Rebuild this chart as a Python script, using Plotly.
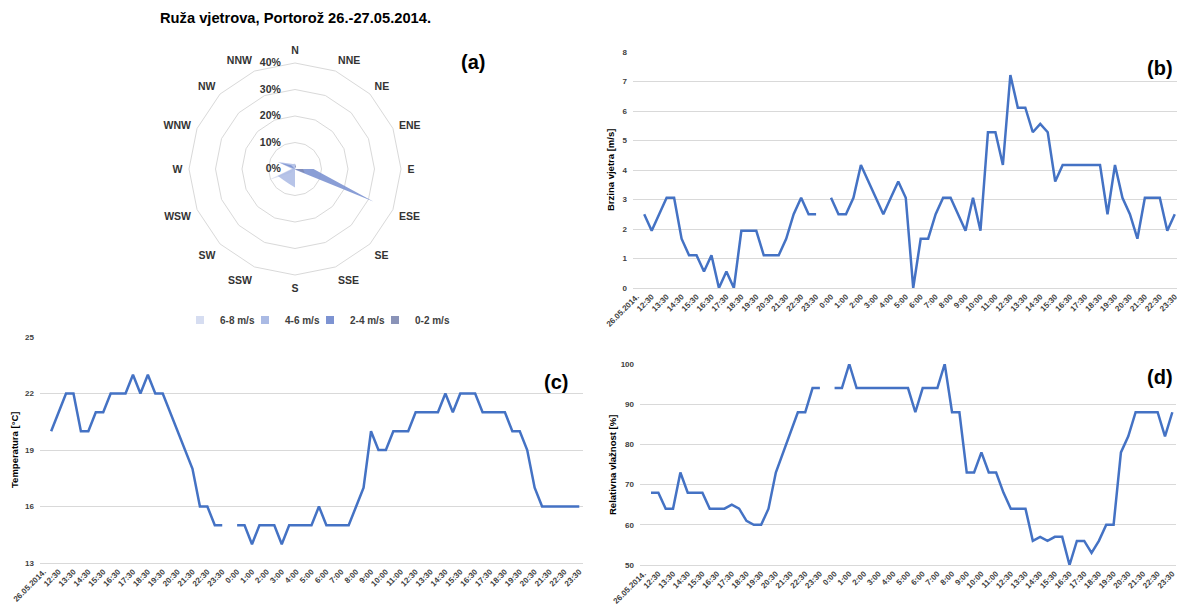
import plotly.graph_objects as go

# ---------------- data ----------------
directions = ["N", "NNE", "NE", "ENE", "E", "ESE", "SE", "SSE",
              "S", "SSW", "SW", "WSW", "W", "WNW", "NW", "NNW"]
rose_6_8 = [0, 0, 0, 0, 0, 0, 0, 0, 0, 0, 2, 11, 1.5, 0, 0, 0]
rose_4_6 = [2, 0, 0, 0, 0, 0, 0, 0, 7, 6, 6, 7, 1, 7, 3, 2]
rose_2_4 = [1.5, 0, 0, 0, 7, 32, 0.5, 0, 0, 0, 0, 0, 0, 6, 2, 0]
rose_0_2 = [2, 1, 0, 0, 3, 4, 0, 0, 0, 0, 0, 0, 0, 0, 0, 0]
rose_series = ["6-8 m/s", "4-6 m/s", "2-4 m/s", "0-2 m/s"]

categories = [
    "26.05.2014.", "12:00", "12:30", "13:00", "13:30", "14:00", "14:30", "15:00", "15:30",
    "16:00", "16:30", "17:00", "17:30", "18:00", "18:30", "19:00", "19:30", "20:00",
    "20:30", "21:00", "21:30", "22:00", "22:30", "23:00", "23:30",
    "27.05.2014.", "0:00", "0:30", "1:00", "1:30", "2:00", "2:30", "3:00", "3:30",
    "4:00", "4:30", "5:00", "5:30", "6:00", "6:30", "7:00", "7:30", "8:00", "8:30",
    "9:00", "9:30", "10:00", "10:30", "11:00", "12:00", "12:30", "13:00", "13:30",
    "14:00", "14:30", "15:00", "15:30", "16:00", "16:30", "17:00", "17:30", "18:00",
    "18:30", "19:00", "19:30", "20:00", "20:30", "21:00", "21:30", "22:00", "22:30",
    "23:00", "23:30",
]
tick_labels = [
    "26.05.2014.", "12:30", "13:30", "14:30", "15:30", "16:30", "17:30", "18:30",
    "19:30", "20:30", "21:30", "22:30", "23:30", "0:00", "1:00", "2:00", "3:00",
    "4:00", "5:00", "6:00", "7:00", "8:00", "9:00", "10:00", "11:00", "12:30",
    "13:30", "14:30", "15:30", "16:30", "17:30", "18:30", "19:30", "20:30", "21:30",
    "22:30", "23:30",
]

wind_speed = [
    None, 2.5, 1.94, 2.5, 3.06, 3.06, 1.67, 1.11, 1.11, 0.56, 1.11, 0, 0.56, 0,
    1.94, 1.94, 1.94, 1.11, 1.11, 1.11, 1.67, 2.5, 3.06, 2.5, 2.5,
    None, 3.06, 2.5, 2.5, 3.06, 4.17, 3.61, 3.06, 2.5, 3.06, 3.61, 3.06, 0, 1.67,
    1.67, 2.5, 3.06, 3.06, 2.5, 1.94, 3.06, 1.94, 5.28, 5.28, 4.17, 7.22, 6.11,
    6.11, 5.28, 5.56, 5.28, 3.61, 4.17, 4.17, 4.17, 4.17, 4.17, 4.17, 2.5, 4.17,
    3.06, 2.5, 1.67, 3.06, 3.06, 3.06, 1.94, 2.5,
]
temperature = [
    None, 20, 21, 22, 22, 20, 20, 21, 21, 22, 22, 22, 23, 22, 23, 22, 22, 21, 20,
    19, 18, 16, 16, 15, 15,
    None, 15, 15, 14, 15, 15, 15, 14, 15, 15, 15, 15, 16, 15, 15, 15, 15, 16, 17,
    20, 19, 19, 20, 20, 20, 21, 21, 21, 21, 22, 21, 22, 22, 22, 21, 21, 21, 21,
    20, 20, 19, 17, 16, 16, 16, 16, 16, 16,
]
humidity = [
    None, 68, 68, 64, 64, 73, 68, 68, 68, 64, 64, 64, 65, 64, 61, 60, 60, 64, 73,
    78, 83, 88, 88, 94, 94,
    None, 94, 94, 100, 94, 94, 94, 94, 94, 94, 94, 94, 88, 94, 94, 94, 100, 88,
    88, 73, 73, 78, 73, 73, 68, 64, 64, 64, 56, 57, 56, 57, 57, 50, 56, 56, 53,
    56, 60, 60, 78, 82, 88, 88, 88, 88, 82, 88,
]

# ---------------- style ----------------
W, H = 1177, 605
FONT = "Liberation Sans, Arial, sans-serif"
LINE_BLUE = "#4472C4"
GRID = "#D9D9D9"
TXT = "#404040"
rose_colors = ["rgba(214,221,241,0.9)", "rgba(170,186,228,0.85)",
               "rgba(125,147,210,0.9)", "rgba(128,138,180,0.9)"]
legend_colors = ["#D6DDF1", "#AABAE4", "#7D93D2", "#8A93B8"]
legend_text_px = [220, 285, 350, 415]   # left edge of each legend entry's text
legend_names = ["legend", "legend2", "legend3", "legend4"]

def px_x(p):
    return p / W

def px_y(p):
    return 1 - p / H

fig = go.Figure()

# wind rose (filled radar)
for name, vals, col in zip(rose_series, [rose_6_8, rose_4_6, rose_2_4, rose_0_2], rose_colors):
    fig.add_trace(go.Scatterpolar(
        r=vals + [vals[0]], theta=directions + [directions[0]],
        mode="lines", line=dict(width=0, color=col), fill="toself",
        fillcolor=col, name=name, subplot="polar", showlegend=False,
        legendgroup=name,
    ))
# legend entries (square swatches), one small legend per entry
for name, col, lg in zip(rose_series, legend_colors, legend_names):
    fig.add_trace(go.Scatterpolar(
        r=[None], theta=[directions[0]], mode="markers",
        marker=dict(symbol="square", size=8, color=col),
        name=name, subplot="polar", showlegend=True, legendgroup=name, legend=lg,
    ))

xs = list(range(len(categories)))
tickvals = xs[::2]

for yv, xa, ya in [(wind_speed, "x", "y"), (temperature, "x2", "y2"), (humidity, "x3", "y3")]:
    fig.add_trace(go.Scatter(x=xs, y=yv, mode="lines", text=categories,
                             line=dict(color=LINE_BLUE, width=2.5), xaxis=xa, yaxis=ya,
                             showlegend=False, connectgaps=False))

tickfont = dict(family=FONT, size=8, color=TXT, weight="bold")

def xaxis_cfg(domain, anchor, rng):
    return dict(domain=domain, anchor=anchor, range=rng, tickmode="array",
                tickvals=tickvals, ticktext=tick_labels, tickangle=-45,
                tickfont=tickfont, showgrid=False, zeroline=False,
                showline=True, linecolor=GRID, linewidth=1, ticks="",
                automargin=False, fixedrange=True, ticklabeloverflow="allow")

def yaxis_cfg(domain, anchor, rng, tick0, dtick):
    return dict(domain=domain, anchor=anchor, range=rng, tick0=tick0, dtick=dtick,
                tickfont=tickfont, showgrid=True, gridcolor=GRID, gridwidth=1,
                zeroline=False, showline=False, ticks="", automargin=False,
                fixedrange=True, ticklabelstandoff=5)

legend_font = dict(family=FONT, size=10, color=TXT, weight="bold")
legend_layouts = {}
for lg, tx in zip(legend_names, legend_text_px):
    legend_layouts[lg] = dict(orientation="h", x=px_x(tx - 40), xanchor="left",
                              y=px_y(320), yanchor="middle", font=legend_font,
                              itemwidth=30, bgcolor="rgba(0,0,0,0)", borderwidth=0)

fig.update_layout(
    width=W, height=H, autosize=False,
    margin=dict(l=0, r=0, t=0, b=0),
    paper_bgcolor="white", plot_bgcolor="white",
    font=dict(family=FONT, color=TXT),
    polar=dict(
        domain=dict(x=[px_x(295 - 106), px_x(295 + 106)],
                    y=[px_y(169 + 106), px_y(169 - 106)]),
        gridshape="linear", bgcolor="white",
        angularaxis=dict(rotation=90, direction="clockwise", showgrid=False,
                         showline=True, linecolor=GRID, linewidth=1,
                         ticks="outside", ticklen=4, tickcolor="rgba(0,0,0,0)",
                         tickfont=dict(family=FONT, size=10.5, color="#333333", weight="bold")),
        radialaxis=dict(range=[0, 40], tickvals=[0, 10, 20, 30, 40],
                        ticktext=["0%", "10%", "20%", "30%", "40%"], angle=90,
                        showline=False, ticks="outside", ticklen=10,
                        tickcolor="rgba(0,0,0,0)", gridcolor=GRID, gridwidth=1,
                        side="counterclockwise", tickangle=90,
                        tickfont=dict(family=FONT, size=10.5, color="#333333", weight="bold")),
    ),
    xaxis=xaxis_cfg([px_x(633), 1.0], "y", [-0.5, 72.3]),
    yaxis=yaxis_cfg([px_y(288), px_y(52)], "x", [0, 8], 0, 1),
    xaxis2=xaxis_cfg([px_x(40), px_x(583)], "y2", [-0.5, 72.5]),
    yaxis2=yaxis_cfg([px_y(563), px_y(337)], "x2", [13, 25], 13, 3),
    xaxis3=xaxis_cfg([px_x(640), px_x(1176)], "y3", [-0.5, 72.5]),
    yaxis3=yaxis_cfg([px_y(565), px_y(364)], "x3", [50, 100], 50, 10),
    **legend_layouts,
)

annotations = [
    dict(text="Ruža vjetrova, Portorož 26.-27.05.2014.", x=px_x(295), y=px_y(18),
         font=dict(family=FONT, size=14.7, color="#000000", weight="bold")),
    dict(text="(a)", x=px_x(473), y=px_y(62), font=dict(family=FONT, size=20, color="#000000", weight="bold")),
    dict(text="(b)", x=px_x(1160), y=px_y(68), font=dict(family=FONT, size=20, color="#000000", weight="bold")),
    dict(text="(c)", x=px_x(556), y=px_y(382), font=dict(family=FONT, size=20, color="#000000", weight="bold")),
    dict(text="(d)", x=px_x(1160), y=px_y(377), font=dict(family=FONT, size=20, color="#000000", weight="bold")),
    dict(text="Brzina vjetra [m/s]", x=px_x(611), y=px_y(170), textangle=-90,
         font=dict(family=FONT, size=9.5, color="#000000", weight="bold")),
    dict(text="Temperatura [°C]", x=px_x(14), y=px_y(450), textangle=-90,
         font=dict(family=FONT, size=9.5, color="#000000", weight="bold")),
    dict(text="Relativna vlažnost [%]", x=px_x(612), y=px_y(465), textangle=-90,
         font=dict(family=FONT, size=9.5, color="#000000", weight="bold")),
]
for a in annotations:
    a.update(xref="paper", yref="paper", showarrow=False, xanchor="center", yanchor="middle")
fig.update_layout(annotations=annotations)

fig.write_html("out.html", config={"displayModeBar": False},
               post_script="document.body.style.margin='0';document.body.style.overflow='hidden';")
